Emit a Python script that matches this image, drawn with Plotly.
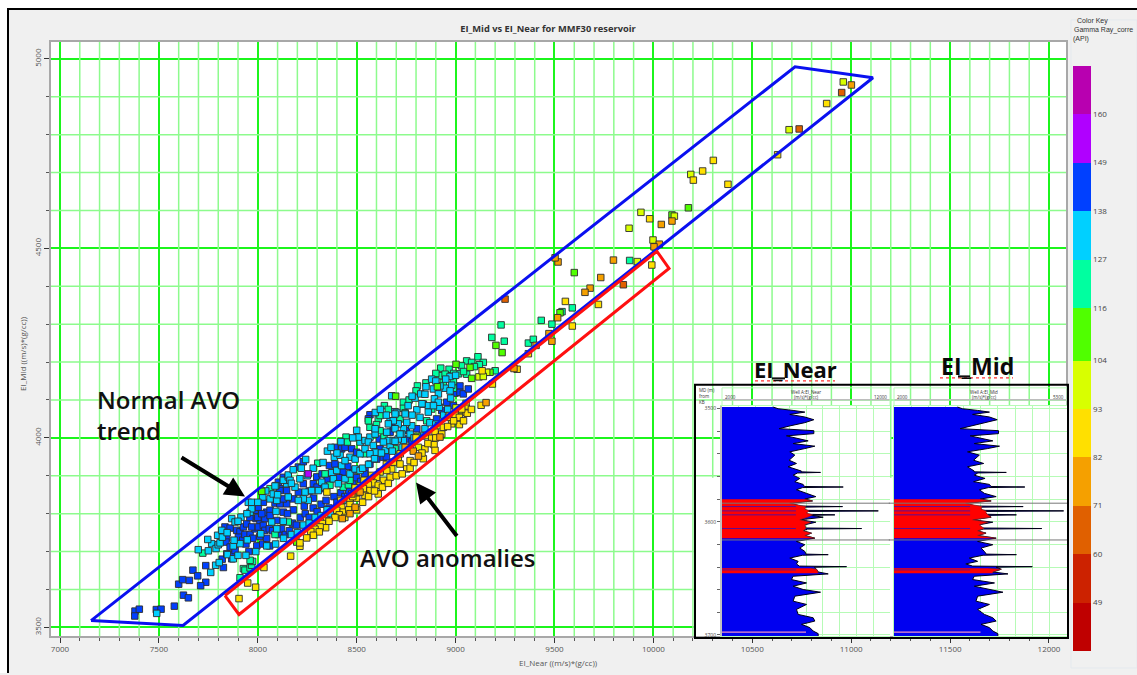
import plotly.graph_objects as go

W, H = 1137, 675
def px(v): return v / W
def py(v): return 1 - v / H

# ---------- cross-plot data: (EI_Near, EI_Mid), grouped by gamma-ray band ----------
gr_dark_orange = [(10952,4911),(10737,4815),(9848,4404),(9250,4366)]
gr_orange = [(11001,4931),(10094,4572),(10040,4563),(10030,4511),(10003,4504),(9798,4469),(9518,4464),(9503,4475),(9734,4423),(9680,4395),(9654,4384),(9516,4317),(9487,4255),(9407,4244),(9472,4275),(9295,4183),(9154,4093),(8921,4002),(8745,3975),(8786,3965),(8812,3952),(8475,3852),(8517,3857),(8492,3817),(8466,3800),(8427,3787)]
gr_yellow = [(10876,4882),(10628,4747),(10303,4732),(10249,4704),(10202,4680),(10377,4669),(9981,4578),(9992,4456),(9722,4352),(9555,4360),(9590,4295),(9368,4222),(9311,4181),(9134,4177),(9186,4142),(9129,4086),(9053,4078),(9053,4067),(8968,4059),(9059,4065),(9031,4076),(8997,4060),(8964,4054),(9019,4054),(9019,4035),(8980,4037),(8938,4028),(8896,4015),(8854,4006),(8879,3999),(8891,3982),(8896,3967),(8845,3971),(8770,3975),(8837,3945),(8770,3940),(8710,3949),(8685,3936),(8719,3931),(8753,3918),(8677,3918),(8652,3914),(8669,3896),(8618,3910),(8601,3896),(8576,3901),(8635,3888),(8584,3881),(8559,3876),(8609,3875),(8537,3888),(8517,3873),(8492,3868),(8534,3866),(8567,3861),(8609,3852),(8500,3841),(8542,3848),(8466,3839),(8466,3824),(8424,3817),(8399,3809),(8432,3804),(8412,3797),(8348,3782),(8326,3774),(8343,3763),(8315,3765),(8289,3759),(8311,3752),(8268,3753),(8281,3743),(8247,3736),(8213,3714),(8213,3723),(8166,3688),(8031,3658),(7989,3606),(7949,3617),(7905,3576),(8349,3857),
             (8440,3790),(8460,3810),(8500,3810),(8530,3830),(8560,3845),(8590,3860),(8630,3870),(8660,3880),(8700,3900),(8730,3905),(8770,3920),(8790,3935),(8830,3960),(8860,3985),(8900,4000),(8930,4010),(8960,4030),(8990,4045),(9040,4045),(9080,4075),(8500,3855),(8650,3930),(8720,3958),(8800,4000),(8480,3845),(8420,3835),(8390,3790),(8360,3780)]
gr_yellow_green = [(10960,4939),(10686,4813),(9937,4595),(9877,4553),(9998,4522),(9919,4465),(10189,4695),(10106,4585),(9118,4161),(9157,4173),(9140,4162),(9002,4079),(9053,4091),(9022,4072),(8913,4032),(8812,3975)]
gr_green = [(10177,4607),(10094,4588),(9600,4436),(9528,4330),(9204,4244),(9235,4225),(9002,4194),(9073,4186),(9174,4173),(9081,4157),(8908,4135),(8697,4110),(8197,3725),(8020,3859),(8807,4004)]
gr_mint = [(9880,4468),(9538,4333),(9590,4343),(9433,4310),(9487,4300),(9230,4298),(9183,4265),(9246,4255),(9368,4250),(9393,4260),(9056,4203),(9113,4214),(9081,4199),(9140,4199),(9120,4193),(9095,4188),(9200,4177),(9056,4168),(8925,4184),(8967,4181),(8918,4164),(8947,4168),(8938,4146),(8989,4148),(8989,4131),(8807,4137),(8800,4124),(8736,4094),(8736,4078),(8745,4066),(8879,4076),(7722,3696),(7927,3655),(7935,3651),(7961,3657),(7969,3664),(7974,3674),(7910,3631),(7961,3677),(8087,3745),(8062,3866),(8154,3778),(8303,3933),(8340,3905),(8365,3875),(8432,3870),(8458,3876),(8446,4002),(8453,3989),(8542,3958),(8466,3888),(8638,4004),(8618,4019),(8567,4028),(8559,4045),(8609,4050),(8719,4050),(8854,4045),(8618,4059),(8694,3971),(9015,4169),
           (8600,4035),(8640,4085),(8765,4100),(8850,4145),(8900,4170),(8990,4170),(9030,4190),(9040,4175),(8660,4075)]
gr_cyan = [(8879,4155),(8972,4162),(8948,4131),(8980,4139),(8972,4124),(8888,4129),(8913,4116),(8677,4111),(8795,4105),(8824,4116),(8845,4115),(8975,4105),(8893,4103),(8694,4069),(8804,4074),(8862,4085),(8918,4081),(8862,4068),(8913,4094),(8820,4054),(8778,4032),(8845,4024),(8888,4085),(8702,4067),(8669,4045),(8921,4137),(7489,3537),(7762,3645),(7787,3664),(7805,3671),(7699,3705),(7750,3702),(7767,3721),(7789,3708),(7800,3718),(7747,3732),(7809,3723),(7797,3743),(7818,3756),(7821,3738),(7876,3715),(7846,3692),(7876,3681),(7868,3787),(7885,3778),(7915,3791),(7961,3804),(7969,3813),(7952,3830),(7969,3830),(7947,3731),(7910,3721),(8015,3747),(8025,3844),(8062,3839),(8078,3852),(8092,3874),(8092,3806),(8070,3778),(8096,3760),(8129,3780),(8154,3844),(8096,3835),(8146,3879),(8129,3888),(8154,3897),(8087,3873),(8154,3902),(8179,3916),(8242,3943),(8163,3888),(8188,3870),(8213,3892),(8239,3857),(8255,3835),(8230,3839),(8205,3835),(8306,3861),(8272,3861),(8323,3883),(8340,3870),(8374,3908),(8399,3914),(8424,3927),(8382,3892),(8407,3879),(8441,3892),(8466,3905),(8492,3918),(8352,3965),(8387,3949),(8416,3954),(8466,3949),(8441,3940),(8492,3944),(8517,3958),(8542,3971),(8517,3989),(8542,3993),(8567,4002),(8593,4010),(8508,4002),(8559,3989),(8584,3980),(8645,3967),(8593,3962),(8567,3958),(8517,3914),(8669,3980),(8660,3993),(8685,3993),(8635,3989),(8652,4015),(8736,4024),(8710,4037),(8685,4045),(8694,4063),(8745,4063),(8753,4041),(8660,4037),(8593,4024),(8594,4067),(8736,3993),(8728,4010),(8710,3997),(8694,4024),(8719,4010),(8694,3991),
           (7990,3700),(8045,3715),(8090,3720),(8130,3735),(8170,3745),(8200,3750),(8230,3770),(8260,3775),(8290,3790),(8320,3795),(8350,3810),(8370,3800),(8400,3815),(8430,3835),(8455,3845),(8490,3860),(8530,3920),(8560,3930),(8590,3945),(8625,3960),(8680,3965),(8730,3975),(8770,4010),(8790,4000),(8830,4005),(8870,4040),(8900,4036),(8940,4060),(8960,4075),(8780,4060),(8760,4085),(8830,4090),(8780,4110),(8850,4135),(8900,4150),(8950,4155),(9000,4165),(8650,4060),(8620,4075),(8500,4020),(8480,4000),(8420,3990),(8400,3960),(8370,3975),(8330,3935),(8280,3920),(8250,3900),(8220,3920),(8170,3880),(8100,3850),(8040,3860),(8000,3830),(7945,3800),(7900,3780),(7880,3730),(7845,3750),(7900,3690),(7940,3690)]
gr_blue = [(7379,3543),(7401,3548),(7378,3530),(7487,3547),(7511,3548),(7578,3556),(7624,3585),(7649,3578),(7600,3614),(7620,3626),(7654,3624),(7672,3651),(7696,3636),(7737,3619),(7711,3610),(7737,3663),(7820,3680),(7826,3658),(7843,3694),(7868,3681),(7834,3765),(7843,3736),(7860,3762),(7839,3725),(7860,3712),(7868,3692),(7885,3703),(7893,3756),(7910,3752),(7927,3765),(7944,3773),(7986,3826),(7902,3738),(7924,3730),(7935,3745),(7961,3745),(7986,3760),(7969,3765),(7991,3787),(8011,3780),(8036,3787),(8003,3765),(8028,3769),(8036,3756),(8058,3760),(7986,3809),(8003,3817),(8028,3830),(8087,3828),(8112,3866),(8045,3804),(8062,3809),(8062,3795),(8096,3782),(8129,3804),(8146,3826),(8112,3826),(8129,3839),(8104,3883),(8129,3896),(8205,3923),(8230,3937),(8230,3879),(8205,3857),(8146,3861),(8112,3861),(8281,3841),(8179,3839),(8281,3879),(8298,3897),(8315,3866),(8362,3927),(8390,3931),(8390,3975),(8424,3971),(8441,3975),(8475,3971),(8500,3962),(8567,3931),(8542,3918),(8618,3971),(8601,3944),(8635,3949),(8614,3997),(8753,3997),(8669,4015),(8567,4061),(8559,4050),(8685,4032),(8804,4024),(8904,4050),(8930,4072),(8989,4085),(9022,4137),(8955,4094),(8997,4118),(9022,4120),(9039,4116),(9064,4129),(8837,4089),
           (7940,3720),(7955,3700),(7975,3735),(7995,3715),(8010,3740),(8025,3720),(8045,3735),(8060,3715),(8075,3755),(8105,3745),(8120,3760),(8140,3745),(8160,3755),(8175,3775),(8195,3770),(8215,3790),(8240,3800),(8260,3790),(8280,3815),(8300,3805),(8320,3825),(8345,3835),(8360,3815),(8385,3845),(8400,3830),(8420,3855),(8440,3845),(8460,3860),(8480,3880),(8500,3895),(8520,3885),(8540,3905),(8480,3915),(8455,3925),(8430,3910),(8410,3895),(8350,3890),(8325,3905),(8300,3870),(8260,3860),(8235,3820),(8180,3810),(8150,3800),(8000,3790),(8020,3800),(7960,3790),(8650,3950),(8750,4020),(8780,3990)]
gr_purple = [(8255,3905)]

# drawing order and the gamma-ray value that each group carries
point_groups = [gr_blue, gr_mint, gr_cyan, gr_purple, gr_green, gr_yellow_green, gr_yellow, gr_orange, gr_dark_orange]
group_gamma = [144, 122, 132, 155, 110, 98, 88, 76, 65]

normal_trend_x = [7157, 7622, 11110, 10716, 7157]
normal_trend_y = [3518, 3505, 4950, 4979, 3518]
anomaly_x = [7834, 7905, 10079, 10018, 7834]
anomaly_y = [3584, 3534, 4447, 4492, 3584]

# ---------- colour key ----------
band_edges = [38, 49, 60, 71, 82, 93, 104, 116, 127, 138, 149, 160, 171]
band_colors = ["#bf0000", "#cc2200", "#e06000", "#f5a000", "#ffe000", "#d8ff00",
               "#50ff00", "#00ffa0", "#00d0ff", "#0040ff", "#b000ff", "#b800b0"]
key_ticks = [49, 60, 71, 82, 93, 104, 116, 127, 138, 149, 160]

# ---------- well logs ----------
log_depth = [3498.5,3500,3501.5,3503,3505,3507.3,3509.7,3512.3,3515.2,3517.6,3519.4,3522,3524,3526.4,3528.4,3530.8,3533.1,3535.2,3538.1,3541,3545.5,3548.4,3551.3,3555.1,3555.8,3556.3,3556.8,3558.7,3561.6,3564.5,3566.9,3568.7,3569.2,3569.7,3571.6,3574.8,3577.7,3579.8,3581.5,3583.6,3586,3586.5,3587,3588.6,3589.8,3590.3,3590.8,3592.1,3593.3,3593.8,3594.3,3595.9,3598.2,3600.3,3602.6,3605.4,3605.9,3606.4,3607.9,3610,3612,3614.4,3617.3,3620.2,3623.2,3626.1,3628.5,3629,3629.5,3632,3634.9,3637.2,3639.1,3639.6,3640.1,3641.9,3644.3,3646,3648.1,3651,3654,3656.9,3659.8,3662.2,3665.7,3670.1,3673,3677.4,3681.8,3684.8,3687.7,3690.6,3693.5,3696.5,3698.8,3700.9]
log_near = [5042,5340,6234,6930,6036,6930,7467,6930,6036,5399,7467,7467,5837,6533,7129,6234,7527,6930,6036,6334,5996,6433,5937,6731,6700,7865,6500,6234,6632,6334,6831,6900,9216,6800,6433,7030,7586,6930,7387,6036,6700,9177,6900,6930,7000,11304,7050,7030,7100,8719,7300,8024,6632,7586,6930,6950,10310,7100,6831,7328,6930,7527,6433,6930,6632,6930,7000,8322,6800,6036,6533,6433,6600,9415,7500,7626,7725,8322,6234,6135,7030,6234,6831,7865,6334,6234,7030,6433,6533,7427,7527,6731,7228,7427,7725,7725]
log_mid = [3209,3306,3595,3821,3499,3821,3969,3724,3499,3261,3994,3994,3454,3660,3885,3531,4013,3788,3402,3628,3518,3711,3402,3531,3530,4142,3600,3531,3737,3518,3821,3850,4496,3800,3628,3724,3949,3647,3853,3370,3550,4464,3650,3660,3680,5236,3720,3756,3780,4335,3800,3853,3499,3885,3628,3650,4818,3700,3595,3756,3595,3949,3595,3885,3660,3724,3760,4335,3700,3435,3595,3370,3500,4638,3950,4046,3885,4174,3531,3499,3917,3531,3853,4078,3595,3563,3821,3595,3724,3885,3949,3660,3821,3885,3981,3981]

# reservoir intervals filled red: depths and the right-hand limit of the fill
red_upper_depth = [3580,3581.5,3583.6,3586.5,3588.6,3590.3,3592.1,3593.8,3595.9,3598.2,3600.3,3602.6,3605.9,3607.9,3610,3612,3614.5]
red_upper_near = [6930,7387,6036,7000,6930,7200,7030,7400,7100,6632,7300,6930,7000,6831,7328,6930,7527]
red_upper_mid = [3647,3853,3370,3680,3660,3760,3756,3790,3853,3499,3800,3628,3720,3595,3756,3595,3949]
red_lower_depth = [3641,3641.9,3644.3,3645.5]
red_lower_near = [7300,7626,7725,7700]
red_lower_mid = [3800,4046,3885,3880]
# thin blue streaks inside the red intervals, and the thin pink line near the base
streak_depth = [3586.5, 3590.3, 3593.8, 3605.9, 3642.5]
pink_depth = 3697.5
marker_depths = [3583.5, 3616]
depth_ticks = [3500,3520,3540,3560,3580,3600,3620,3640,3660,3680,3700]
depth_text = ["3500","","","","","3600","","","","","3700"]

X_RANGE = [6954.5, 12086]
Y_RANGE = [3477, 5044.7]

# ---------- figure ----------
xs, ys, cs = [], [], []
for grp, gamma in zip(point_groups, group_gamma):
    for a, b in grp:
        xs.append(a); ys.append(b); cs.append(gamma)

span = band_edges[-1] - band_edges[0]
colorscale = []
for i, c in enumerate(band_colors):
    colorscale.append([(band_edges[i] - band_edges[0]) / span, c])
    colorscale.append([(band_edges[i + 1] - band_edges[0]) / span, c])

fig = go.Figure()
fig.add_trace(go.Scatter(
    x=xs, y=ys, mode="markers", showlegend=False,
    marker=dict(symbol="square", size=6.5, color=cs, cmin=band_edges[0], cmax=band_edges[-1],
                colorscale=colorscale, line=dict(color="rgba(45,45,45,0.9)", width=1),
                colorbar=dict(x=px(1073), xanchor="left", y=py(66), yanchor="top",
                              len=(653 - 66) / H, lenmode="fraction", thickness=18,
                              xpad=0, ypad=0, outlinewidth=0, tickvals=key_ticks,
                              ticktext=[str(t) for t in key_ticks], ticks="", ticklen=0,
                              tickfont=dict(size=8, color="#444", family="Open Sans")))))
fig.add_trace(go.Scatter(x=normal_trend_x, y=normal_trend_y, mode="lines", showlegend=False,
                         line=dict(color="#0a10f0", width=3)))
fig.add_trace(go.Scatter(x=anomaly_x, y=anomaly_y, mode="lines", showlegend=False,
                         line=dict(color="#ff1010", width=3)))

for xa, ya, vals, red_u, red_l in [("x2", "y2", log_near, red_upper_near, red_lower_near),
                                   ("x3", "y3", log_mid, red_upper_mid, red_lower_mid)]:
    fig.add_trace(go.Scatter(x=vals, y=log_depth, xaxis=xa, yaxis=ya, mode="lines", showlegend=False,
                             fill="tozerox", fillcolor="#0000f0", line=dict(color="#000018", width=1)))
    for rv, rd in [(red_u, red_upper_depth), (red_l, red_lower_depth)]:
        fig.add_trace(go.Scatter(x=rv, y=rd, xaxis=xa, yaxis=ya, mode="lines", showlegend=False,
                                 fill="tozerox", fillcolor="#ff0000",
                                 line=dict(color="rgba(120,40,40,0.8)", width=0.8)))

GRID_MAJOR = "#1cf51c"
GRID_MINOR = "#8dfb8d"
axis_common = dict(showline=True, mirror=True, linecolor="#a8a8a8", linewidth=1.5, zeroline=False,
                   gridcolor=GRID_MAJOR, gridwidth=2, ticks="outside", tickcolor="#333", ticklen=5,
                   tickformat="d", tickfont=dict(size=8, color="#555", family="Open Sans"))
fig.update_layout(
    width=W, height=H, margin=dict(l=0, r=0, t=0, b=0), autosize=False,
    paper_bgcolor="#f0f0f0", plot_bgcolor="white", showlegend=False,
    title=dict(text="<b>EI_Mid vs EI_Near for MMF30 reservoir</b>", x=548 / W, xanchor="center",
               y=py(29), yanchor="middle", font=dict(size=9.3, color="#333", family="Open Sans")),
    xaxis=dict(domain=[px(51), px(1066)], range=X_RANGE, dtick=500, tick0=7000,
               minor=dict(dtick=100, tick0=7000, showgrid=False, ticks="outside", ticklen=3, tickcolor="#555"),
               **axis_common),
    yaxis=dict(domain=[py(638), py(42)], range=Y_RANGE, dtick=500, tick0=3500, tickangle=-90,
               minor=dict(dtick=100, tick0=3500, showgrid=False, ticks="outside", ticklen=3, tickcolor="#555"),
               **axis_common),
    xaxis2=dict(domain=[px(722), px(890)], range=[2000, 12000], anchor="y2", dtick=1000, tick0=2000,
                showticklabels=False, ticks="", showgrid=True, gridcolor="#b6fbb6", gridwidth=1,
                showline=True, mirror=True, linecolor="#b6fbb6", zeroline=False),
    xaxis3=dict(domain=[px(894), px(1067)], range=[2000, 5300], anchor="y3", dtick=330, tick0=2000,
                showticklabels=False, ticks="", showgrid=True, gridcolor="#b6fbb6", gridwidth=1,
                showline=True, mirror=True, linecolor="#b6fbb6", zeroline=False),
    yaxis2=dict(domain=[py(638), py(407)], range=[3701, 3497.4], anchor="x2", tickvals=depth_ticks,
                ticktext=depth_text, ticks="outside", ticklen=3, tickcolor="#666",
                tickfont=dict(size=5, color="#444", family="Open Sans"),
                showgrid=True, gridcolor="#b6fbb6", gridwidth=1, showline=True, linecolor="#c0c0c0",
                linewidth=2, zeroline=False),
    yaxis3=dict(domain=[py(638), py(407)], range=[3701, 3497.4], anchor="x3", tickvals=depth_ticks,
                showticklabels=False, ticks="", showgrid=True, gridcolor="#b6fbb6", gridwidth=1,
                showline=True, linecolor="#b6fbb6", mirror=True, zeroline=False),
)

shapes = []
def paper_line(x0, y0, x1, y1, color, width, dash=None):
    shapes.append(dict(type="line", xref="paper", yref="paper", x0=px(x0), y0=py(y0), x1=px(x1), y1=py(y1),
                       line=dict(color=color, width=width, dash=dash or "solid"), layer="above"))

# lighter minor grid, between the major grid and the marks
for v in range(7000, 12100, 100):
    if v % 500:
        shapes.append(dict(type="line", xref="x", yref="y", x0=v, x1=v, y0=Y_RANGE[0], y1=Y_RANGE[1],
                           line=dict(color=GRID_MINOR, width=1.5), layer="between"))
for v in range(3500, 5000, 100):
    if v % 500:
        shapes.append(dict(type="line", xref="x", yref="y", x0=X_RANGE[0], x1=X_RANGE[1], y0=v, y1=v,
                           line=dict(color=GRID_MINOR, width=1.5), layer="between"))

# white top and left margins of the screenshot and its black frame
shapes.append(dict(type="rect", xref="paper", yref="paper", x0=0, x1=1, y0=py(8), y1=1,
                   fillcolor="white", line_width=0, layer="above"))
shapes.append(dict(type="rect", xref="paper", yref="paper", x0=0, x1=px(7), y0=0, y1=1,
                   fillcolor="white", line_width=0, layer="above"))
paper_line(7, 9, 1137, 9, "#000000", 2)
paper_line(8, 8, 8, 675, "#000000", 2)
shapes.append(dict(type="rect", xref="paper", yref="paper", x0=px(1071), x1=px(1137), y0=py(670), y1=py(20),
                   fillcolor="rgba(0,0,0,0)", line=dict(color="#e4e9ee", width=1), layer="above"))

# inset: white page under its own subplots, header rows and black frame
shapes.append(dict(type="rect", xref="x", yref="y", x0=10205, x1=X_RANGE[1], y0=Y_RANGE[0], y1=3895,
                   fillcolor="white", line_width=0, layer="between"))
for d in marker_depths:
    shapes.append(dict(type="line", xref="x2 domain", yref="y2", x0=0, x1=1, y0=d, y1=d,
                       line=dict(color="#777", width=1), layer="above"))
    shapes.append(dict(type="line", xref="x3 domain", yref="y3", x0=-0.03, x1=1, y0=d, y1=d,
                       line=dict(color="#777", width=1), layer="above"))
for xa, ya in [("x2 domain", "y2"), ("x3 domain", "y3")]:
    for d in streak_depth:
        shapes.append(dict(type="line", xref=xa, yref=ya, x0=0, x1=0.44, y0=d, y1=d,
                           line=dict(color="#3010c0", width=0.8), layer="above"))
    shapes.append(dict(type="line", xref=xa, yref=ya, x0=0, x1=0.5, y0=pink_depth, y1=pink_depth,
                       line=dict(color="#f090c0", width=1.2), layer="above"))
for x0, x1 in [(722, 890), (894, 1067)]:
    paper_line(x0, 401, x1, 401, "#bdbdbd", 1.5)
    paper_line(x0, 389, x0, 407, "#b6fbb6", 1)
    paper_line(x1, 389, x1, 407, "#b6fbb6", 1)
    paper_line(x0, 389, x1, 389, "#b6fbb6", 1)
paper_line(755, 382, 835, 382, "#ff3030", 1.2, "dot")
paper_line(940, 379, 1013, 379, "#ff3030", 1.2, "dot")
paper_line(772, 379.5, 785, 379.5, "#111", 2)
paper_line(958, 377.5, 970, 377.5, "#111", 2)
shapes.append(dict(type="rect", xref="paper", yref="paper", x0=px(695), x1=px(1068), y0=py(640), y1=py(386),
                   fillcolor="rgba(0,0,0,0)", line=dict(color="#000", width=2), layer="above"))
fig.update_layout(shapes=shapes)

def label(text, x, y, size=8, color="#444", anchor="left", valign="middle", angle=0, weight=None, family="Open Sans"):
    f = dict(size=size, color=color, family=family)
    if weight: f["weight"] = weight
    fig.add_annotation(text=text, xref="paper", yref="paper", x=px(x), y=py(y), showarrow=False,
                       xanchor=anchor, yanchor=valign, align=anchor, font=f, textangle=angle)

label("EI_Near ((m/s)*(g/cc))", 558, 664, size=8, color="#555", anchor="center")
label("EI_Mid ((m/s)*(g/cc))", 23, 355, size=8, color="#555", anchor="center", angle=-90)
label("Normal AVO<br>trend", 95, 416, size=24, color="#111", weight=600)
label("AVO anomalies", 358, 559, size=24, color="#111", weight=600)
label("EI_Near", 795, 370, size=22, color="#0a0a0a", anchor="center", weight=700)
label("EI_Mid", 977, 367, size=23, color="#0a0a0a", anchor="center", weight=700)
label("Color Key", 1075, 21, size=7, color="#333", family="Liberation Sans")
label("Gamma Ray_corre", 1072, 30, size=7, color="#333", family="Liberation Sans")
label("(API)", 1071, 39, size=7, color="#333", family="Liberation Sans")
label("MD (m)<br>from<br>KB", 697, 397, size=4.5, color="#333")
label("Well A:EI_Near", 806, 393.5, size=4.5, color="#333", anchor="center")
label("(m/s)*(g/cc)", 806, 398.5, size=4.5, color="#333", anchor="center")
label("Well A:EI_Mid", 984, 393.5, size=4.5, color="#333", anchor="center")
label("(m/s)*(g/cc)", 984, 398.5, size=4.5, color="#333", anchor="center")
label("2000", 723, 398.5, size=4.5, color="#333")
label("12000", 889, 398.5, size=4.5, color="#333", anchor="right")
label("2000", 895, 398.5, size=4.5, color="#333")
label("5300", 1066, 398.5, size=4.5, color="#333", anchor="right")

for x_tip, y_tip, x_tail, y_tail in [(245, 498, 180, 458), (416, 484, 458, 539)]:
    fig.add_annotation(xref="paper", yref="paper", x=px(x_tip), y=py(y_tip), ax=x_tail - x_tip, ay=y_tail - y_tip,
                       axref="pixel", ayref="pixel", showarrow=True, arrowhead=2, arrowsize=1,
                       arrowwidth=4, arrowcolor="#000", text="")

fig.write_html("out.html", config=dict(displayModeBar=False),
               post_script="document.body.style.margin='0';document.body.style.overflow='hidden';")
